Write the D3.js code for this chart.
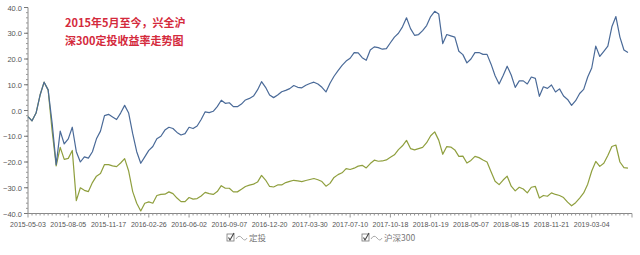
<!DOCTYPE html>
<html>
<head>
<meta charset="utf-8">
<script src="https://d3js.org/d3.v7.min.js"></script>
<style>
  body { margin: 0; background: #fff; }
  text { font-family: "Liberation Sans", Arial, sans-serif; }
</style>
</head>
<body>
<div id="visu"></div>
<script>

// Dimensions
var largeur = 640,
    hauteur = 255;

// Etiquettes de l'axe des x (une tous les 10 points)
var etiquettes = ["2015-05-03", "2015-08-05", "2015-11-17", "2016-02-26", "2016-06-02",
                  "2016-09-07", "2016-12-20", "2017-03-30", "2017-07-10", "2017-10-18",
                  "2018-01-19", "2018-05-07", "2018-08-15", "2018-11-21", "2019-03-04"];

var ticksY = [40, 30, 20, 10, 0, -10, -20, -30, -40];

// Séries (rendement en %)
var dingtou = [
  -2.4, -4, -1, 6, 11, 8, -5, -21, -8, -13,
  -11, -6.5, -16, -20, -18, -18.5, -16, -11, -8, -2,
  -1.5, -2.5, -3.5, -1, 2, -1, -9, -16, -20.5, -18,
  -15.5, -14, -11, -10, -7.6, -6.5, -7, -8.5, -9.5, -9,
  -6.5, -7, -6, -3.5, -0.5, -0.8, -0.3, 1.5, 4, 2.8,
  3, 1.5, 1.5, 2.5, 4.1, 4.7, 5.6, 8, 11.2, 9,
  6, 5, 6, 7.3, 7.8, 8.5, 9.7, 9, 8.8, 9.8,
  10.5, 11, 10.3, 9, 7.2, 10.6, 13.3, 15.5, 17.5, 19.2,
  20.3, 22.5, 22.4, 20.5, 19.5, 23.5, 24.7, 24.4, 23.8, 24,
  26.3, 28.5, 30, 32.5, 36, 31.8, 29.2, 29.5, 31, 33,
  36.5, 38.5, 37.5, 26, 29.5, 29, 28.5, 23, 21.7, 18.5,
  20, 22.5, 22.5, 21.8, 21.8, 18, 13.5, 10.3, 13.6, 17.2,
  13.8, 9, 11.5, 11.5, 10.3, 13, 12.5, 5.5, 9.2, 8.6,
  9.9, 7.2, 8.4, 5.6, 4.3, 2, 3.8, 6.6, 8.2, 13,
  16.5, 25, 21, 23, 25, 32.5, 36.5, 28.5, 23.5, 22.5
];

var hs300 = [
  -2.4, -4, -1, 6, 11, 8, -8, -21.5, -14.3, -19,
  -18.6, -15.5, -35, -30, -31, -31.5, -28, -25.5, -24.5, -21,
  -21, -21.5, -21.8, -20.4, -18.7, -23.5, -31.5, -36, -39, -36,
  -35.5, -36, -33, -32.6, -32.5, -31.6, -32.3, -34, -35.4, -35.4,
  -33.8, -34.4, -34.2, -33.2, -31.8, -32.3, -32.6, -31.5, -29.2, -30.2,
  -30.2, -31.6, -31.6, -30.6, -29.5, -29, -28.6, -27.8, -25.2, -27,
  -29.5, -29.7, -28.9, -28.9, -28, -27.5, -27.1, -27.3, -27.6, -27.2,
  -26.8, -26.4, -26.9, -27.6, -29.4, -28.3, -26, -24.9, -24.2, -22.6,
  -22.9, -22.4, -21.6, -21.3, -22.3, -20.6, -19.3, -19.7, -19.6, -19.2,
  -18.2, -17.2, -15.2, -13.7, -11.6, -14.8, -15.3, -14.8, -14.3, -12.5,
  -9.8, -8.3, -11.5, -17, -14, -14.2, -15.3, -17.8, -17.7, -20.4,
  -19.4, -17.8, -18.3, -19.2, -20, -23.8, -27.5, -28.8, -27, -25.5,
  -29.4, -31.2, -29.8, -30.5, -32, -29.8, -29.5, -34, -33, -33.3,
  -32, -32.6, -33, -33.8, -35.6, -37, -35.8, -34, -32, -28.6,
  -23.5, -19.8, -21.7, -20.5, -17.5, -14, -13.4, -20, -22.2, -22.4
];

var series = [
  {nom: "定投", valeurs: dingtou, couleur: "#4a6a98"},
  {nom: "沪深300", valeurs: hs300, couleur: "#8f9f3e"}
];

var svg = d3.select("#visu")
  .append("svg")
    .attr("width", largeur)
    .attr("height", hauteur);

svg.append("rect").attr("width", largeur).attr("height", hauteur).attr("fill", "#fff");

// Echelles
var x = d3.scaleLinear().domain([0, 150]).range([28, 632]);
var y = d3.scaleLinear().domain([-40, 40]).range([213.5, 7.5]);

// Axe y
var axeY = svg.append("g").attr("transform", "translate(28,0)");
axeY.append("line").attr("y1", y(40)).attr("y2", y(-40)).attr("stroke", "#888").attr("stroke-width", 1);
axeY.selectAll(".mineur")
  .data(d3.range(-40, 41, 2))
  .enter().append("line")
    .attr("x1", 0).attr("x2", -2)
    .attr("y1", d => y(d)).attr("y2", d => y(d))
    .attr("stroke", "#999");
axeY.selectAll(".majeur")
  .data(ticksY)
  .enter().append("line")
    .attr("x1", 0).attr("x2", -4)
    .attr("y1", d => y(d)).attr("y2", d => y(d))
    .attr("stroke", "#777");
axeY.selectAll("text")
  .data(ticksY)
  .enter().append("text")
    .attr("x", -6)
    .attr("y", d => y(d) + 3)
    .attr("text-anchor", "end")
    .attr("font-size", "7.5px")
    .attr("fill", "#555")
    .text(d => d3.format(".1f")(d));

// Axe x
var axeX = svg.append("g").attr("transform", "translate(0," + y(-40) + ")");
axeX.append("line").attr("x1", x(0)).attr("x2", x(150)).attr("stroke", "#888");
axeX.selectAll(".mineur")
  .data(d3.range(0, 151))
  .enter().append("line")
    .attr("x1", d => x(d)).attr("x2", d => x(d))
    .attr("y1", 0).attr("y2", d => d % 10 == 0 ? 4 : 2)
    .attr("stroke", "#999");
axeX.selectAll("text")
  .data(etiquettes)
  .enter().append("text")
    .attr("x", (d, i) => x(i * 10))
    .attr("y", 13)
    .attr("text-anchor", "middle")
    .attr("font-size", "7px")
    .attr("fill", "#555")
    .text(d => d);

// Courbes
var ligne = d3.line()
  .x((d, i) => x(i))
  .y(d => y(d));

svg.selectAll(".courbe")
  .data(series.slice().reverse())
  .enter().append("path")
    .attr("d", d => ligne(d.valeurs))
    .attr("fill", "none")
    .attr("stroke", d => d.couleur)
    .attr("stroke-width", 1.2)
    .attr("stroke-linejoin", "round");

// Titre
var titre = svg.append("g").attr("font-weight", "bold").attr("fill", "#d42a3c").attr("font-size", "11px");
titre.append("text").attr("x", 65).attr("y", 27)
  .style("font-family", "'Noto Sans CJK SC', sans-serif").text("2015年5月至今，兴全沪");
titre.append("text").attr("x", 65).attr("y", 45)
  .style("font-family", "'Noto Sans CJK SC', sans-serif").text("深300定投收益率走势图");

// Légende
var legende = svg.selectAll(".legende")
  .data(series)
  .enter().append("g")
    .attr("transform", (d, i) => "translate(" + (227 + i * 135) + ",238)");
legende.append("rect")
  .attr("x", 0).attr("y", -4).attr("width", 7).attr("height", 7)
  .attr("fill", "none").attr("stroke", "#777").attr("stroke-width", 0.8);
legende.append("path")
  .attr("d", "M1.5,-0.5 L3,2 L7,-5")
  .attr("fill", "none").attr("stroke", "#444").attr("stroke-width", 1.1);
legende.append("path")
  .attr("d", "M9,1 Q12,-4 15,0 T20,0")
  .attr("fill", "none").attr("stroke", "#aaa").attr("stroke-width", 1);
legende.append("text")
  .attr("x", 22).attr("y", 3)
  .attr("font-size", "8.5px").attr("fill", "#777")
  .style("font-family", "'Noto Sans CJK SC', sans-serif")
  .text(d => d.nom);

</script>
</body>
</html>
